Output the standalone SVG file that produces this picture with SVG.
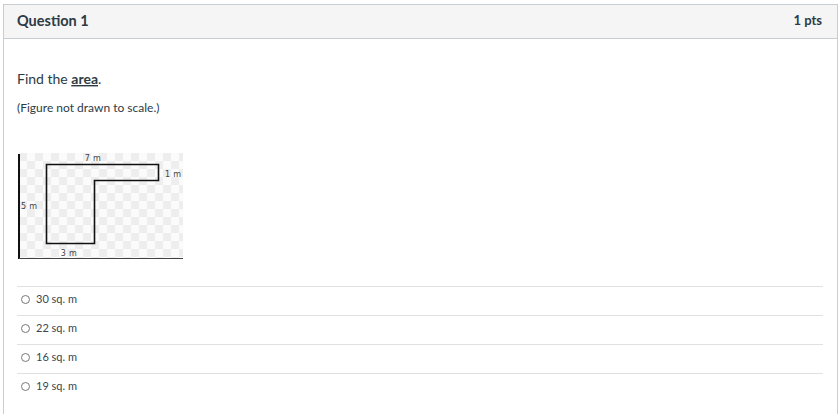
<svg xmlns="http://www.w3.org/2000/svg" width="840" height="414" viewBox="0 0 840 414">
<style>
.t{font-family:Lato,"Liberation Sans",sans-serif;fill:#2d3b45}
.lbl{font-family:"DejaVu Sans",sans-serif;font-size:8px;fill:#444;letter-spacing:0.3px}
.div{stroke:#e0e0e0;stroke-width:1}
.radio{fill:#fff;stroke:#777;stroke-width:1}
.ans{font-size:11px;fill:#3a4650}
</style>
<defs>
<pattern id="chk" x="19" y="153" width="16" height="16" patternUnits="userSpaceOnUse">
<rect width="16" height="16" fill="#fbfbfb"/>
<rect width="8" height="8" fill="#eeeeee"/>
<rect x="8" y="8" width="8" height="8" fill="#eeeeee"/>
</pattern>
</defs>
<rect width="840" height="414" fill="#fff"/>
<g id="card">
<rect x="3.5" y="4.5" width="834" height="420" fill="#fff" stroke="#c7cdd1"/>
<rect x="4" y="5" width="833" height="33" fill="#f5f5f5"/>
<line x1="3.5" y1="38.5" x2="837.5" y2="38.5" stroke="#c7cdd1"/>
<text class="t" x="17" y="26" font-size="14.5" font-weight="bold">Question 1</text>
<text class="t" x="822" y="25" font-size="13" font-weight="bold" text-anchor="end" fill="#444">1 pts</text>
</g>
<g id="question">
<text class="t" x="17" y="84" font-size="14">Find the <tspan font-weight="bold" text-decoration="underline">area</tspan>.</text>
<text class="t" x="17" y="112" font-size="12">(Figure not drawn to scale.)</text>
</g>
<g id="figure">
<rect x="19" y="153" width="164" height="105" fill="url(#chk)"/>
<line x1="19" y1="154" x2="19" y2="259" stroke="#111" stroke-width="2"/>
<line x1="19" y1="258.5" x2="183" y2="258.5" stroke="#444" stroke-width="1"/>
<path d="M46.5 164.5 H158.5 V180.5 H94.5 V243.5 H46.5 Z" fill="none" stroke="#111" stroke-width="1.6"/>
<text class="lbl" x="93" y="161" text-anchor="middle">7 m</text>
<text class="lbl" x="165" y="177">1 m</text>
<text class="lbl" x="21" y="209">5 m</text>
<text class="lbl" x="69" y="256" text-anchor="middle">3 m</text>
</g>
<g id="answers">
<line class="div" x1="17" y1="286.5" x2="823" y2="286.5"/>
<line class="div" x1="17" y1="315.5" x2="823" y2="315.5"/>
<line class="div" x1="17" y1="344.5" x2="823" y2="344.5"/>
<line class="div" x1="17" y1="373.5" x2="823" y2="373.5"/>
<g id="a1"><circle class="radio" cx="25.5" cy="299.5" r="4"/><text class="t ans" x="36" y="303">30 sq. m</text></g>
<g id="a2"><circle class="radio" cx="25.5" cy="328.5" r="4"/><text class="t ans" x="36" y="332">22 sq. m</text></g>
<g id="a3"><circle class="radio" cx="25.5" cy="357.5" r="4"/><text class="t ans" x="36" y="361">16 sq. m</text></g>
<g id="a4"><circle class="radio" cx="25.5" cy="386.5" r="4"/><text class="t ans" x="36" y="390">19 sq. m</text></g>
</g>
</svg>
